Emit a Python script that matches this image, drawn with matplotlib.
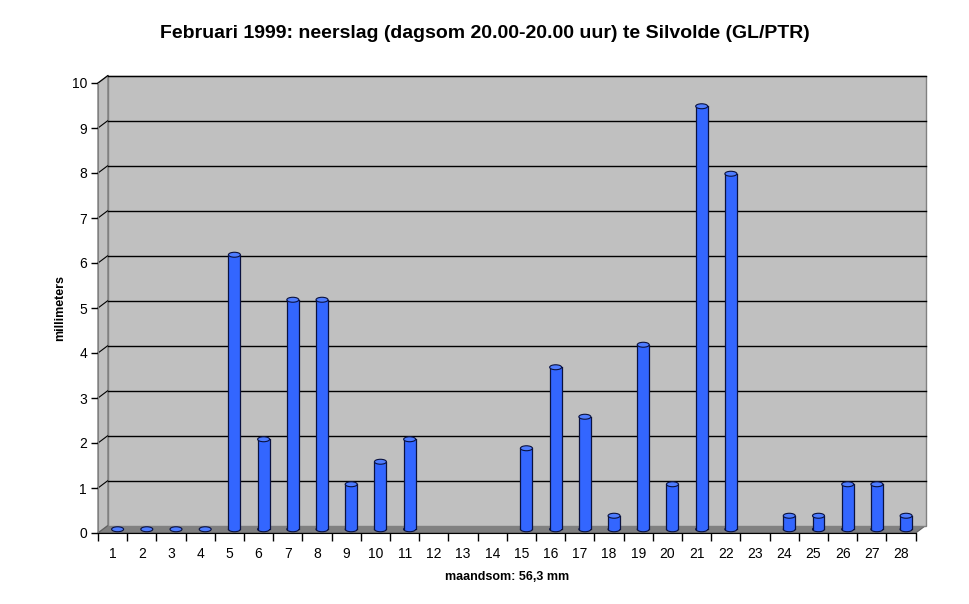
import numpy as np
import matplotlib
matplotlib.use('Agg')
import matplotlib.pyplot as plt
from matplotlib import transforms
from matplotlib.patches import Rectangle, Ellipse, Polygon

plt.rcParams['font.family'] = ['Liberation Sans', 'DejaVu Sans']

# data: daily rainfall february 1999 (mm), nan = no bar
days = list(range(1, 29))
rain = [0, 0, 0, 0, 6.1, 2.0, 5.1, 5.1, 1.0, 1.5, 2.0, np.nan, np.nan, np.nan,
        1.8, 3.6, 2.5, 0.3, 4.1, 1.0, 9.4, 7.9, np.nan, 0.3, 0.3, 1.0, 1.0, 0.3]
yticks = list(range(0, 11))

title = 'Februari 1999: neerslag (dagsom 20.00-20.00 uur) te Silvolde (GL/PTR)'
xlab = 'maandsom: 56,3 mm'
ylab = 'millimeters'

# 3d look: depth offset of back wall in pixels
DX, DY = 10, 7.5
wall = '#c0c0c0'
floor = '#808080'
bar_c = '#3366ff'
top_c = '#4f7dff'
edge_c = '#0a1240'

fig = plt.figure(figsize=(9.7, 6.04), dpi=100)
ax = fig.add_axes([98/970, 71/604, 817.7/970, 450/604])
ax.set_zorder(2)
n = len(days)
ax.set_xlim(0, n)
ax.set_ylim(0, 10)
ax.set_facecolor('none')
for s in ['top', 'right']:
    ax.spines[s].set_visible(False)
ax.spines['left'].set_color('#808080')
ax.spines['bottom'].set_color('black')

back = transforms.offset_copy(ax.transData, fig, x=DX, y=DY, units='dots')
mid = transforms.offset_copy(ax.transData, fig, x=DX/2, y=DY/2, units='dots')
tofig = fig.transFigure.inverted()

# back wall
ax.add_patch(Rectangle((0, 0), n, 10, transform=back, facecolor=wall,
                       edgecolor='#808080', lw=1, clip_on=False, zorder=0))
# left side wall
p0 = ax.transData.transform([(0, 0), (0, 10)])
p1 = back.transform([(0, 10), (0, 0)])
fig.add_artist(Polygon(tofig.transform(np.vstack([p0, p1])), closed=True,
                       transform=fig.transFigure, facecolor=wall,
                       edgecolor='#808080', lw=1, zorder=0.5))
# floor
f0 = ax.transData.transform([(0, 0), (n, 0)])
f1 = back.transform([(n, 0), (0, 0)])
fig.add_artist(Polygon(tofig.transform(np.vstack([f0, f1])), closed=True,
                       transform=fig.transFigure, facecolor=floor,
                       edgecolor='#606060', lw=0.8, zorder=0.6))

# gridlines on back wall and side wall
for v in yticks[1:]:
    ax.plot([0, n], [v, v], color='black', lw=1.0, transform=back,
            clip_on=False, zorder=1)
    q = tofig.transform([ax.transData.transform((0, v)), back.transform((0, v))])
    fig.add_artist(plt.Line2D(q[:, 0], q[:, 1], color='black', lw=0.8,
                              transform=fig.transFigure, zorder=1))

# cylinder bars
w = 0.41
eh = 0.11
for i, v in enumerate(rain):
    if np.isnan(v):
        continue
    x = i + 0.5
    if v > 0:
        ax.add_patch(Ellipse((x, 0), w, eh, transform=mid, facecolor=bar_c,
                             edgecolor=edge_c, lw=0.8, clip_on=False, zorder=2))
        ax.add_patch(Rectangle((x - w/2, 0), w, v, transform=mid, facecolor=bar_c,
                               edgecolor='none', clip_on=False, zorder=3))
        ax.plot([x - w/2, x - w/2], [0, v], color=edge_c, lw=0.9, transform=mid,
                clip_on=False, zorder=3)
        ax.plot([x + w/2, x + w/2], [0, v], color=edge_c, lw=0.9, transform=mid,
                clip_on=False, zorder=3)
    ax.add_patch(Ellipse((x, v), w, eh, transform=mid, facecolor=top_c,
                         edgecolor=edge_c, lw=0.8, clip_on=False, zorder=4))

ax.set_xticks(np.arange(0, n + 1))
ax.set_xticklabels([])
ax.set_xticks(np.arange(n) + 0.5, minor=True)
ax.set_xticklabels([str(d) for d in days], minor=True)
ax.tick_params(axis='x', which='major', direction='out', length=6, width=1, color='black')
ax.tick_params(axis='x', which='minor', length=0, pad=10, labelsize=10)
ax.set_yticks(yticks)
ax.tick_params(axis='y', direction='out', length=5, width=1, color='black',
               labelsize=10, pad=3)

ax.set_xlabel(xlab, fontsize=9, fontweight='bold', labelpad=7)
ax.set_ylabel(ylab, fontsize=9, fontweight='bold', labelpad=4)
fig.text(485/970, 1 - 33/604, title, ha='center', va='center',
         fontsize=14, fontweight='bold')

fig.savefig('out.png', dpi=100)
